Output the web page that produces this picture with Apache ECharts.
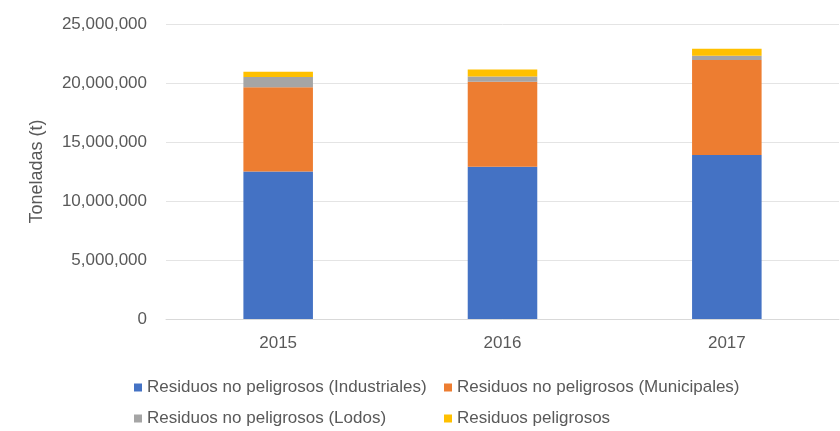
<!DOCTYPE html>
<html><head><meta charset="utf-8">
<script src="https://cdn.jsdelivr.net/npm/echarts@6/dist/echarts.min.js"></script>
<style>html,body{margin:0;padding:0;background:#fff}#c{width:840px;height:431px}</style>
</head><body><div id="c"></div>
<script>
const categories = ['2015', '2016', '2017'];
const industriales = [12500000, 12900000, 13900000];
const municipales = [7150000, 7200000, 8050000];
const lodos = [850000, 450000, 350000];
const peligrosos = [450000, 600000, 600000];
const seriesNames = ['Residuos no peligrosos (Industriales)', 'Residuos no peligrosos (Municipales)', 'Residuos no peligrosos (Lodos)', 'Residuos peligrosos'];
const colors = ['#4472C4', '#ED7D31', '#A5A5A5', '#FFC000'];
const FONT = 'Liberation Sans';
const chart = echarts.init(document.getElementById('c'));
const values = [industriales, municipales, lodos, peligrosos];
const legendText = {color: '#595959', fontSize: 17, fontFamily: FONT};
const legendPos = [[129, 374], [439, 374], [129, 405], [439, 405]];
chart.setOption({
  animation: false,
  color: colors,
  grid: {left: 166, right: 1, top: 24, bottom: 112},
  legend: seriesNames.map((n, i) => ({data: [n], left: legendPos[i][0], top: legendPos[i][1],
    itemWidth: 8, itemHeight: 8, itemGap: 4, icon: 'rect', textStyle: legendText})),
  xAxis: {type: 'category', data: categories,
    axisLine: {lineStyle: {color: '#D9D9D9'}}, axisTick: {show: false},
    axisLabel: {color: '#595959', fontSize: 17, fontFamily: FONT, margin: 16}},
  yAxis: {type: 'value', min: 0, max: 25000000, interval: 5000000,
    name: 'Toneladas (t)', nameLocation: 'middle', nameGap: 120, nameRotate: 90,
    nameTextStyle: {color: '#595959', fontSize: 18, fontFamily: FONT},
    axisLabel: {color: '#595959', fontSize: 17, fontFamily: FONT, margin: 19,
      formatter: v => v.toLocaleString('en-US')},
    splitLine: {lineStyle: {color: '#E4E4E4'}}, axisLine: {show: false}, axisTick: {show: false}},
  series: seriesNames.map((n, i) => ({name: n, type: 'bar', stack: 'total', data: values[i], barWidth: '31%', itemStyle: {color: colors[i]}}))
});
</script></body></html>
